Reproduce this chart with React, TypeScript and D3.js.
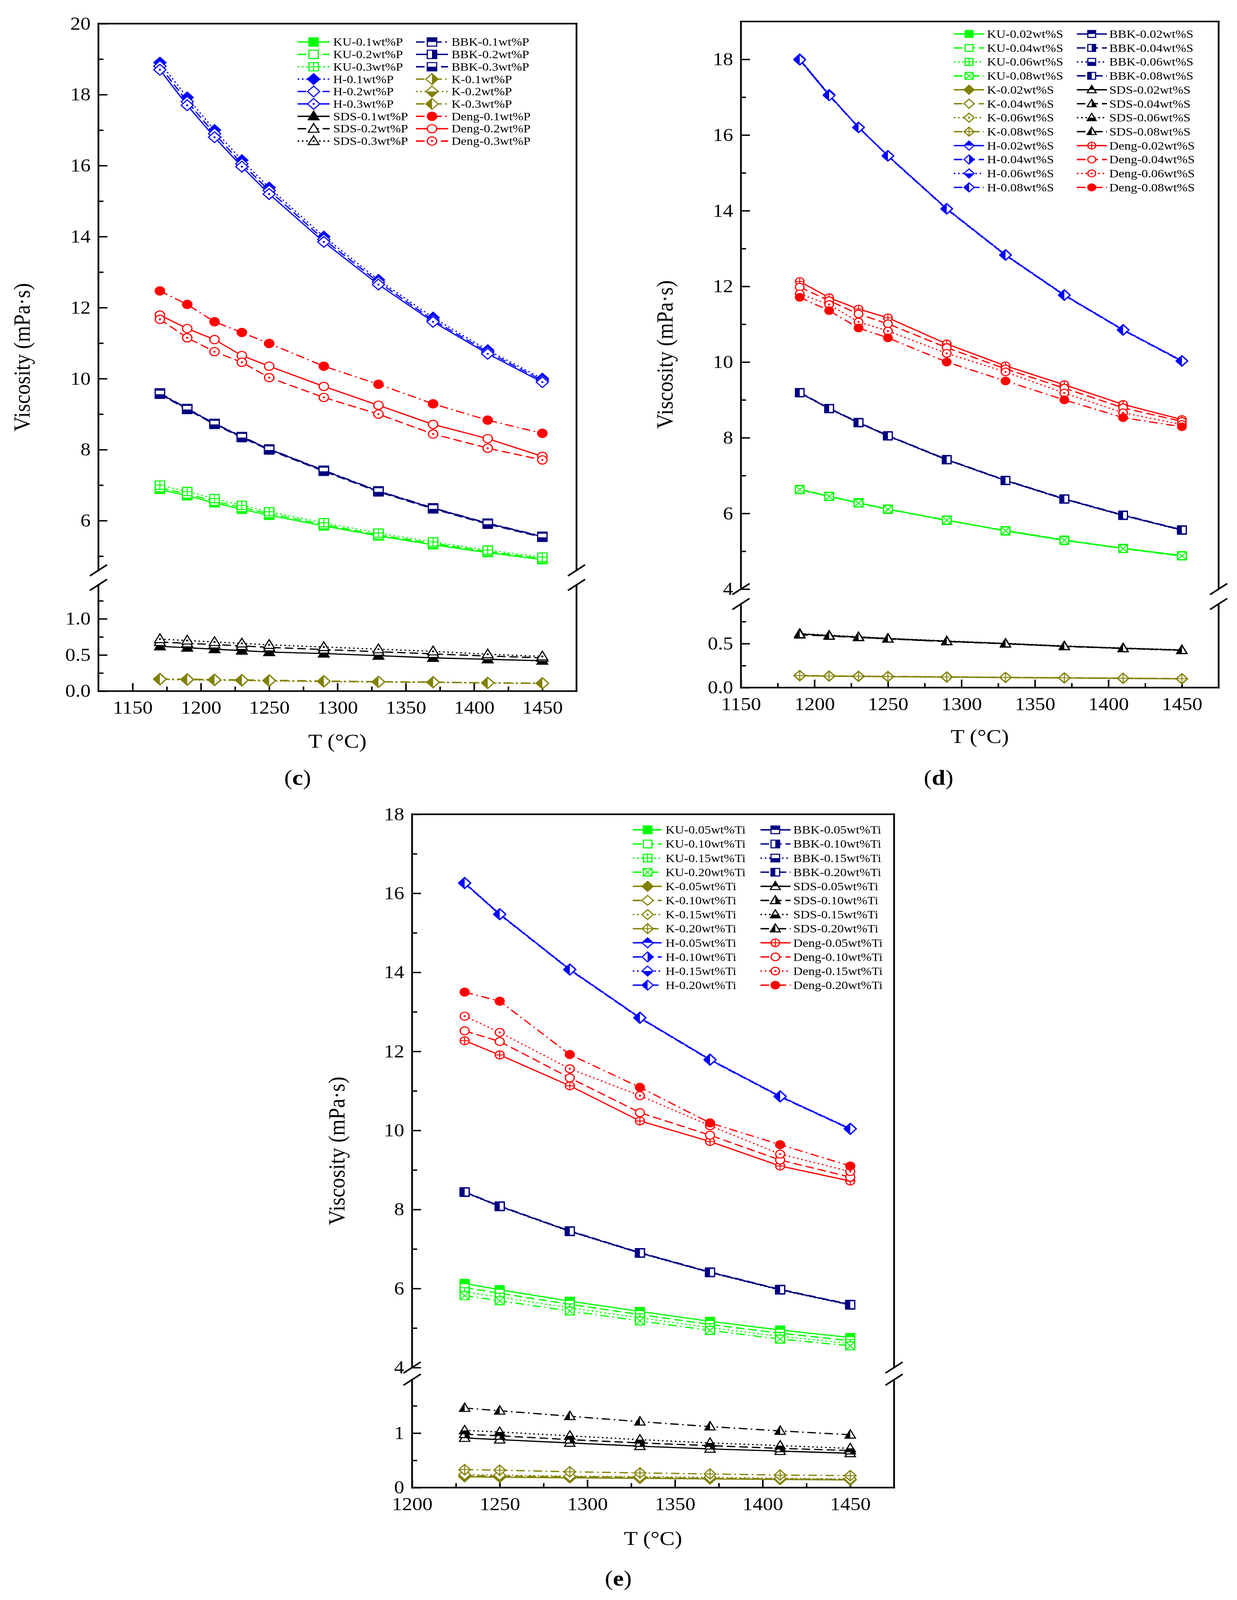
import React, { useEffect, useRef } from "react";
import * as d3 from "d3";

const W = 3167;
const H = 4612;
const FONT = "'Liberation Serif', 'Times New Roman', serif";

// ---------- (c) phosphorus ----------
const tempsP = [1170, 1190, 1210, 1230, 1250, 1290, 1330, 1370, 1410, 1450];
const kuP1 = [6.88, 6.7, 6.5, 6.32, 6.15, 5.85, 5.57, 5.32, 5.1, 4.9];
const kuP2 = [6.93, 6.75, 6.55, 6.37, 6.2, 5.89, 5.6, 5.36, 5.13, 4.93];
const kuP3 = [7.0, 6.82, 6.62, 6.43, 6.25, 5.94, 5.65, 5.4, 5.17, 4.97];
const hP1 = [18.9, 17.92, 17.0, 16.15, 15.38, 14.0, 12.78, 11.72, 10.8, 10.0];
const hP2 = [18.8, 17.8, 16.9, 16.05, 15.3, 13.92, 12.72, 11.65, 10.75, 9.95];
const hP3 = [18.7, 17.7, 16.8, 15.97, 15.2, 13.85, 12.65, 11.6, 10.7, 9.9];
const sdsP1 = [0.62, 0.6, 0.58, 0.56, 0.54, 0.52, 0.49, 0.46, 0.44, 0.42];
const sdsP2 = [0.68, 0.66, 0.645, 0.625, 0.605, 0.575, 0.545, 0.515, 0.485, 0.46];
const sdsP3 = [0.72, 0.7, 0.68, 0.66, 0.64, 0.61, 0.58, 0.55, 0.51, 0.48];
const bbkP1 = [9.6, 9.16, 8.74, 8.37, 8.02, 7.42, 6.84, 6.36, 5.93, 5.56];
const bbkP2 = [9.58, 9.15, 8.73, 8.36, 8.01, 7.41, 6.83, 6.35, 5.92, 5.55];
const bbkP3 = [9.56, 9.13, 8.71, 8.34, 7.99, 7.39, 6.81, 6.33, 5.9, 5.53];
const kP1 = [0.17, 0.165, 0.16, 0.155, 0.15, 0.14, 0.13, 0.125, 0.115, 0.11];
const kP2 = [0.16, 0.155, 0.15, 0.145, 0.14, 0.13, 0.125, 0.12, 0.11, 0.105];
const kP3 = [0.165, 0.16, 0.155, 0.15, 0.145, 0.135, 0.128, 0.122, 0.112, 0.108];
const dengP1 = [12.47, 12.09, 11.6, 11.3, 10.99, 10.35, 9.84, 9.29, 8.83, 8.46];
const dengP2 = [11.79, 11.41, 11.1, 10.65, 10.35, 9.78, 9.25, 8.71, 8.31, 7.81];
const dengP3 = [11.67, 11.15, 10.76, 10.46, 10.03, 9.47, 9.0, 8.44, 8.04, 7.71];

// ---------- (d) sulfur ----------
const tempsS = [1190, 1210, 1230, 1250, 1290, 1330, 1370, 1410, 1450];
const kuS02 = [6.63, 6.45, 6.28, 6.11, 5.82, 5.54, 5.29, 5.08, 4.88];
const kuS04 = [6.64, 6.46, 6.27, 6.12, 5.81, 5.55, 5.3, 5.07, 4.87];
const kuS06 = [6.62, 6.44, 6.29, 6.1, 5.83, 5.53, 5.28, 5.08, 4.89];
const kuS08 = [6.63, 6.45, 6.27, 6.11, 5.82, 5.54, 5.29, 5.07, 4.88];
const kS02 = [0.135, 0.13, 0.128, 0.125, 0.12, 0.115, 0.11, 0.105, 0.1];
const kS04 = [0.138, 0.133, 0.13, 0.127, 0.122, 0.117, 0.112, 0.107, 0.102];
const kS06 = [0.133, 0.129, 0.126, 0.123, 0.118, 0.113, 0.108, 0.104, 0.099];
const kS08 = [0.136, 0.131, 0.129, 0.126, 0.121, 0.116, 0.111, 0.106, 0.101];
const hS02 = [18.0, 17.06, 16.2, 15.45, 14.05, 12.83, 11.77, 10.85, 10.03];
const hS04 = [17.98, 17.05, 16.21, 15.44, 14.04, 12.82, 11.76, 10.84, 10.02];
const hS06 = [18.01, 17.07, 16.19, 15.46, 14.06, 12.84, 11.78, 10.86, 10.04];
const hS08 = [17.99, 17.04, 16.2, 15.45, 14.05, 12.83, 11.77, 10.85, 10.03];
const bbkS02 = [9.19, 8.77, 8.4, 8.05, 7.42, 6.87, 6.38, 5.95, 5.56];
const bbkS04 = [9.2, 8.78, 8.41, 8.06, 7.43, 6.88, 6.39, 5.96, 5.57];
const bbkS06 = [9.18, 8.76, 8.39, 8.04, 7.41, 6.86, 6.37, 5.94, 5.55];
const bbkS08 = [9.19, 8.77, 8.4, 8.05, 7.42, 6.87, 6.38, 5.95, 5.56];
const sdsS02 = [0.61, 0.59, 0.574, 0.557, 0.527, 0.5, 0.47, 0.447, 0.426];
const sdsS04 = [0.6, 0.585, 0.57, 0.553, 0.523, 0.497, 0.468, 0.444, 0.423];
const sdsS06 = [0.615, 0.595, 0.578, 0.56, 0.53, 0.503, 0.473, 0.45, 0.429];
const sdsS08 = [0.605, 0.588, 0.572, 0.555, 0.525, 0.499, 0.469, 0.446, 0.425];
const dengS02 = [12.13, 11.7, 11.4, 11.17, 10.48, 9.9, 9.4, 8.88, 8.48];
const dengS04 = [11.98, 11.62, 11.27, 11.01, 10.38, 9.82, 9.31, 8.79, 8.43];
const dengS06 = [11.8, 11.52, 11.06, 10.82, 10.23, 9.74, 9.18, 8.66, 8.35];
const dengS08 = [11.71, 11.36, 10.9, 10.64, 10.0, 9.5, 9.0, 8.53, 8.29];

// ---------- (e) titanium ----------
const tempsT = [1230, 1250, 1290, 1330, 1370, 1410, 1450];
const kuT05 = [6.13, 5.97, 5.68, 5.42, 5.17, 4.95, 4.76];
const kuT10 = [6.02, 5.88, 5.6, 5.34, 5.09, 4.87, 4.68];
const kuT15 = [5.92, 5.78, 5.51, 5.26, 5.01, 4.79, 4.61];
const kuT20 = [5.82, 5.69, 5.43, 5.18, 4.94, 4.72, 4.55];
const kT05 = [0.2, 0.19, 0.18, 0.17, 0.16, 0.15, 0.14];
const kT10 = [0.22, 0.21, 0.2, 0.19, 0.17, 0.16, 0.15];
const kT15 = [0.24, 0.23, 0.21, 0.2, 0.19, 0.17, 0.16];
const kT20 = [0.33, 0.32, 0.29, 0.27, 0.25, 0.23, 0.22];
const hT05 = [16.26, 15.47, 14.07, 12.85, 11.79, 10.86, 10.04];
const hT10 = [16.25, 15.46, 14.06, 12.84, 11.78, 10.85, 10.03];
const hT15 = [16.27, 15.48, 14.08, 12.86, 11.8, 10.87, 10.05];
const hT20 = [16.26, 15.47, 14.07, 12.85, 11.79, 10.86, 10.04];
const bbkT05 = [8.44, 8.08, 7.45, 6.9, 6.41, 5.97, 5.59];
const bbkT10 = [8.45, 8.09, 7.46, 6.91, 6.42, 5.98, 5.6];
const bbkT15 = [8.43, 8.07, 7.44, 6.89, 6.4, 5.96, 5.58];
const bbkT20 = [8.44, 8.08, 7.45, 6.9, 6.41, 5.97, 5.59];
const sdsT05 = [0.91, 0.88, 0.82, 0.76, 0.71, 0.67, 0.63];
const sdsT10 = [0.98, 0.95, 0.88, 0.82, 0.77, 0.72, 0.68];
const sdsT15 = [1.05, 1.02, 0.95, 0.88, 0.82, 0.77, 0.72];
const sdsT20 = [1.46, 1.41, 1.31, 1.21, 1.12, 1.04, 0.97];
const dengT05 = [12.27, 11.91, 11.13, 10.24, 9.72, 9.1, 8.72];
const dengT10 = [12.52, 12.25, 11.33, 10.45, 9.88, 9.25, 8.82];
const dengT15 = [12.89, 12.48, 11.56, 10.88, 10.12, 9.4, 8.96];
const dengT20 = [13.5, 13.27, 11.92, 11.09, 10.19, 9.64, 9.1];

// tick values
const xTicksP = [1150, 1200, 1250, 1300, 1350, 1400, 1450];
const xMinorP = [1175, 1225, 1275, 1325, 1375, 1425];
const xTicksT = [1200, 1250, 1300, 1350, 1400, 1450];
const xMinorT = [1225, 1275, 1325, 1375, 1425];
const yTicksC = [6, 8, 10, 12, 14, 16, 18, 20];
const yMinorC = [5, 7, 9, 11, 13, 15, 17, 19];
const yLowC = [0, 0.5, 1.0];
const yLowMinorC = [0.25, 0.75, 1.25];
const yTicksD = [4, 6, 8, 10, 12, 14, 16, 18];
const yMinorD = [5, 7, 9, 11, 13, 15, 17];
const yLowD = [0, 0.5];
const yLowMinorD = [0.25, 0.75];
const yTicksE = [4, 6, 8, 10, 12, 14, 16, 18];
const yMinorE = [5, 7, 9, 11, 13, 15, 17];
const yLowE = [0, 1];
const yLowMinorE = [0.5, 1.5];

const C = { KU: "#00ff00", K: "#808000", H: "#0000ff", BBK: "#000080", SDS: "#000000", Deng: "#ff0000" };

type Shape = "square" | "diamond" | "triangle" | "circle";
type Fill = "filled" | "open" | "dot" | "plus" | "cross" | "top" | "right" | "bottom" | "left";
type Dash = "solid" | "dash" | "dot" | "dashdot";

interface Series { label: string; values: number[]; color: string; dash: Dash; shape: Shape; fill: Fill; low?: boolean }

const s = (label: string, values: number[], color: string, dash: Dash, shape: Shape, fill: Fill, low = false): Series =>
  ({ label, values, color, dash, shape, fill, low });

const DASHES: Record<Dash, string | null> = { solid: null, dash: "22 10", dot: "4 7", dashdot: "22 9 4 9" };
const D4: Dash[] = ["solid", "dash", "dot", "dashdot"];

const seriesC1 = [
  s("KU-0.1wt%P", kuP1, C.KU, "solid", "square", "filled"),
  s("KU-0.2wt%P", kuP2, C.KU, "dash", "square", "open"),
  s("KU-0.3wt%P", kuP3, C.KU, "dot", "square", "plus"),
  s("H-0.1wt%P", hP1, C.H, "dot", "diamond", "filled"),
  s("H-0.2wt%P", hP2, C.H, "dash", "diamond", "open"),
  s("H-0.3wt%P", hP3, C.H, "solid", "diamond", "dot"),
  s("SDS-0.1wt%P", sdsP1, C.SDS, "solid", "triangle", "filled", true),
  s("SDS-0.2wt%P", sdsP2, C.SDS, "dash", "triangle", "open", true),
  s("SDS-0.3wt%P", sdsP3, C.SDS, "dot", "triangle", "dot", true),
];
const seriesC2 = [
  s("BBK-0.1wt%P", bbkP1, C.BBK, "dashdot", "square", "top"),
  s("BBK-0.2wt%P", bbkP2, C.BBK, "solid", "square", "right"),
  s("BBK-0.3wt%P", bbkP3, C.BBK, "dash", "square", "bottom"),
  s("K-0.1wt%P", kP1, C.K, "dashdot", "diamond", "right", true),
  s("K-0.2wt%P", kP2, C.K, "dot", "diamond", "bottom", true),
  s("K-0.3wt%P", kP3, C.K, "dashdot", "diamond", "left", true),
  s("Deng-0.1wt%P", dengP1, C.Deng, "dashdot", "circle", "filled"),
  s("Deng-0.2wt%P", dengP2, C.Deng, "solid", "circle", "open"),
  s("Deng-0.3wt%P", dengP3, C.Deng, "dash", "circle", "dot"),
];

function group4(names: string[], arrs: number[][], color: string, shape: Shape, fills: Fill[], low = false) {
  return names.map((n, i) => s(n, arrs[i], color, D4[i], shape, fills[i], low));
}
const halves: Fill[] = ["top", "right", "bottom", "left"];

const seriesD1 = [
  ...group4(["KU-0.02wt%S", "KU-0.04wt%S", "KU-0.06wt%S", "KU-0.08wt%S"], [kuS02, kuS04, kuS06, kuS08], C.KU, "square", ["filled", "open", "plus", "cross"]),
  ...group4(["K-0.02wt%S", "K-0.04wt%S", "K-0.06wt%S", "K-0.08wt%S"], [kS02, kS04, kS06, kS08], C.K, "diamond", ["filled", "open", "dot", "plus"], true),
  ...group4(["H-0.02wt%S", "H-0.04wt%S", "H-0.06wt%S", "H-0.08wt%S"], [hS02, hS04, hS06, hS08], C.H, "diamond", halves),
];
const seriesD2 = [
  ...group4(["BBK-0.02wt%S", "BBK-0.04wt%S", "BBK-0.06wt%S", "BBK-0.08wt%S"], [bbkS02, bbkS04, bbkS06, bbkS08], C.BBK, "square", halves),
  ...group4(["SDS-0.02wt%S", "SDS-0.04wt%S", "SDS-0.06wt%S", "SDS-0.08wt%S"], [sdsS02, sdsS04, sdsS06, sdsS08], C.SDS, "triangle", halves, true),
  ...group4(["Deng-0.02wt%S", "Deng-0.04wt%S", "Deng-0.06wt%S", "Deng-0.08wt%S"], [dengS02, dengS04, dengS06, dengS08], C.Deng, "circle", ["plus", "open", "dot", "filled"]),
];
const seriesE1 = [
  ...group4(["KU-0.05wt%Ti", "KU-0.10wt%Ti", "KU-0.15wt%Ti", "KU-0.20wt%Ti"], [kuT05, kuT10, kuT15, kuT20], C.KU, "square", ["filled", "open", "plus", "cross"]),
  ...group4(["K-0.05wt%Ti", "K-0.10wt%Ti", "K-0.15wt%Ti", "K-0.20wt%Ti"], [kT05, kT10, kT15, kT20], C.K, "diamond", ["filled", "open", "dot", "plus"], true),
  ...group4(["H-0.05wt%Ti", "H-0.10wt%Ti", "H-0.15wt%Ti", "H-0.20wt%Ti"], [hT05, hT10, hT15, hT20], C.H, "diamond", halves),
];
const seriesE2 = [
  ...group4(["BBK-0.05wt%Ti", "BBK-0.10wt%Ti", "BBK-0.15wt%Ti", "BBK-0.20wt%Ti"], [bbkT05, bbkT10, bbkT15, bbkT20], C.BBK, "square", halves),
  ...group4(["SDS-0.05wt%Ti", "SDS-0.10wt%Ti", "SDS-0.15wt%Ti", "SDS-0.20wt%Ti"], [sdsT05, sdsT10, sdsT15, sdsT20], C.SDS, "triangle", halves, true),
  ...group4(["Deng-0.05wt%Ti", "Deng-0.10wt%Ti", "Deng-0.15wt%Ti", "Deng-0.20wt%Ti"], [dengT05, dengT10, dengT15, dengT20], C.Deng, "circle", ["plus", "open", "dot", "filled"]),
];

interface LegendCol { x0: number; x1: number; xm: number; xt: number }
interface Panel {
  tag: string; temps: number[]; cols: [Series[], Series[]];
  left: number; right: number; top: number; bottom: number; breakTop: number; breakBottom: number;
  xDomain: [number, number]; upDomain: [number, number]; lowDomain: [number, number];
  xTicks: number[]; xMinor: number[]; yTicks: number[]; yMinor: number[]; lowTicks: number[]; lowMinor: number[]; lowFmt: string;
  legY: number; legDy: number; legCols: [LegendCol, LegendCol]; legR: number; markR: number;
  yTitleX: number; xTitleY: number; tagX: number; tagY: number;
}

const panels: Panel[] = [
  {
    tag: "c", temps: tempsP, cols: [seriesC1, seriesC2],
    left: 252, right: 1476, top: 68, bottom: 1992, breakTop: 1644, breakBottom: 1686,
    xDomain: [1125, 1475], upDomain: [4.6, 20], lowDomain: [0, 1.47],
    xTicks: xTicksP, xMinor: xMinorP, yTicks: yTicksC, yMinor: yMinorC, lowTicks: yLowC, lowMinor: yLowMinorC, lowFmt: ".1f",
    legY: 121, legDy: 35.7, legCols: [{ x0: 762, x1: 844, xm: 803, xt: 853 }, { x0: 1065, x1: 1147, xm: 1106, xt: 1156 }], legR: 12, markR: 12,
    yTitleX: 76, xTitleY: 2155, tagX: 762, tagY: 2262,
  },
  {
    tag: "d", temps: tempsS, cols: [seriesD1, seriesD2],
    left: 1897, right: 3120, top: 62, bottom: 1982, breakTop: 1698, breakBottom: 1741,
    xDomain: [1150, 1475], upDomain: [4, 19], lowDomain: [0, 0.95],
    xTicks: xTicksP, xMinor: xMinorP, yTicks: yTicksD, yMinor: yMinorD, lowTicks: yLowD, lowMinor: yLowMinorD, lowFmt: ".1f",
    legY: 98, legDy: 40.2, legCols: [{ x0: 2442, x1: 2519, xm: 2481, xt: 2527 }, { x0: 2757, x1: 2834, xm: 2795, xt: 2840 }], legR: 10, markR: 11,
    yTitleX: 1722, xTitleY: 2142, tagX: 2403, tagY: 2262,
  },
  {
    tag: "e", temps: tempsT, cols: [seriesE1, seriesE2],
    left: 1055, right: 2289, top: 2347, bottom: 4288, breakTop: 3942, breakBottom: 3977,
    xDomain: [1200, 1475], upDomain: [4, 18], lowDomain: [0, 1.98],
    xTicks: xTicksT, xMinor: xMinorT, yTicks: yTicksE, yMinor: yMinorE, lowTicks: yLowE, lowMinor: yLowMinorE, lowFmt: "d",
    legY: 2392, legDy: 40.7, legCols: [{ x0: 1620, x1: 1694, xm: 1658, xt: 1704 }, { x0: 1947, x1: 2024, xm: 1985, xt: 2031 }], legR: 11, markR: 11.5,
    yTitleX: 882, xTitleY: 4453, tagX: 1583, tagY: 4570,
  },
];

function shapePath(shape: Shape, r: number) {
  if (shape === "square") return `M${-r},${-r}H${r}V${r}H${-r}Z`;
  if (shape === "diamond") { const d = r * 1.3; return `M0,${-d}L${d},0L0,${d}L${-d},0Z`; }
  if (shape === "triangle") return `M0,${-r * 1.25}L${r * 1.15},${r * 0.85}L${-r * 1.15},${r * 0.85}Z`;
  return `M${r},0A${r},${r} 0 1,1 ${-r},0A${r},${r} 0 1,1 ${r},0Z`;
}

function drawMarker(g: d3.Selection<SVGGElement, unknown, null, undefined>, shape: Shape, fill: Fill, color: string, r: number) {
  const p = shapePath(shape, r);
  const ext = shape === "diamond" ? r * 1.3 : r;
  g.append("path").attr("d", p).attr("fill", fill === "filled" ? color : "#fff");
  if (fill === "top" || fill === "right" || fill === "bottom" || fill === "left") {
    g.append("path").attr("d", p).attr("fill", color).attr("clip-path", `url(#half-${fill})`);
  }
  if (fill === "dot") g.append("circle").attr("r", 2.8).attr("fill", color);
  if (fill === "plus") {
    g.append("path").attr("d", `M${-ext},0H${ext}M0,${-ext}V${ext}`).attr("stroke", color).attr("stroke-width", 2.5);
  }
  if (fill === "cross") {
    g.append("path").attr("d", `M${-r},${-r}L${r},${r}M${r},${-r}L${-r},${r}`).attr("stroke", color).attr("stroke-width", 2.5);
  }
  g.append("path").attr("d", p).attr("fill", "none").attr("stroke", color).attr("stroke-width", 3);
}

function drawPanel(root: d3.Selection<SVGSVGElement, unknown, null, undefined>, p: Panel) {
  const g = root.append("g");
  const x = d3.scaleLinear().domain(p.xDomain).range([p.left, p.right]);
  const yU = d3.scaleLinear().domain(p.upDomain).range([p.breakTop, p.top]);
  const yL = d3.scaleLinear().domain(p.lowDomain).range([p.bottom, p.breakBottom]);

  const style = (a: d3.Selection<SVGGElement, unknown, null, undefined>) => {
    a.select(".domain").remove();
    a.attr("font-family", FONT).attr("font-size", 52);
    a.selectAll("line").attr("stroke", "#000").attr("stroke-width", 4);
    a.selectAll("text").attr("fill", "#000");
  };

  // y axes (ticks point inward)
  const ya = (scale: d3.ScaleLinear<number, number>, ticks: number[], fmt: string, size: number, labels: boolean) => {
    const ax = g.append("g").attr("transform", `translate(${p.left},0)`)
      .call(d3.axisLeft(scale).tickValues(ticks).tickSize(-size).tickSizeOuter(0).tickPadding(20)
        .tickFormat(labels ? (d3.format(fmt) as any) : () => ""));
    style(ax);
  };
  ya(yU, p.yTicks, "d", 23, true);
  ya(yU, p.yMinor, "d", 13, false);
  ya(yL, p.lowTicks, p.lowFmt, 23, true);
  ya(yL, p.lowMinor, p.lowFmt, 13, false);

  const xa = (ticks: number[], size: number, labels: boolean) => {
    const ax = g.append("g").attr("transform", `translate(0,${p.bottom})`)
      .call(d3.axisBottom(x).tickValues(ticks).tickSize(-size).tickSizeOuter(0).tickPadding(28)
        .tickFormat(labels ? (d3.format("d") as any) : () => ""));
    style(ax);
  };
  xa(p.xTicks, 23, true);
  xa(p.xMinor, 13, false);

  // frame with axis break
  const frame = g.append("g").attr("stroke", "#000").attr("stroke-width", 4.5).attr("fill", "none").attr("stroke-linecap", "square");
  frame.append("line").attr("x1", p.left).attr("x2", p.right).attr("y1", p.top).attr("y2", p.top);
  frame.append("line").attr("x1", p.left).attr("x2", p.right).attr("y1", p.bottom).attr("y2", p.bottom);
  [p.left, p.right].forEach((xx) => {
    frame.append("line").attr("x1", xx).attr("x2", xx).attr("y1", p.top).attr("y2", p.breakTop);
    frame.append("line").attr("x1", xx).attr("x2", xx).attr("y1", p.breakBottom).attr("y2", p.bottom);
    [p.breakTop, p.breakBottom].forEach((yy) => {
      frame.append("line").attr("x1", xx - 22).attr("y1", yy + 16).attr("x2", xx + 22).attr("y2", yy - 16)
        .attr("stroke-linecap", "butt");
    });
  });

  // series
  const all = [...p.cols[0], ...p.cols[1]];
  all.forEach((se) => {
    const y = se.low ? yL : yU;
    const line = d3.line<number>().x((_, i) => x(p.temps[i])).y((d) => y(d));
    g.append("path").datum(se.values).attr("d", line).attr("fill", "none").attr("stroke", se.color)
      .attr("stroke-width", 3.5).attr("stroke-dasharray", DASHES[se.dash]);
  });
  all.forEach((se) => {
    const y = se.low ? yL : yU;
    se.values.forEach((v, i) => {
      const mg = g.append("g").attr("transform", `translate(${x(p.temps[i])},${y(v)})`);
      drawMarker(mg, se.shape, se.fill, se.color, p.markR);
    });
  });

  // legend
  p.cols.forEach((col, ci) => {
    const lc = p.legCols[ci];
    col.forEach((se, ri) => {
      const yy = p.legY + ri * p.legDy;
      g.append("line").attr("x1", lc.x0).attr("x2", lc.x1).attr("y1", yy).attr("y2", yy)
        .attr("stroke", se.color).attr("stroke-width", 4).attr("stroke-dasharray", DASHES[se.dash]);
      const mg = g.append("g").attr("transform", `translate(${lc.xm},${yy})`);
      drawMarker(mg, se.shape, se.fill, se.color, p.legR);
      g.append("text").attr("x", lc.xt).attr("y", yy).attr("dy", "0.34em").attr("font-family", FONT)
        .attr("font-size", 33).attr("fill", "#000").text(se.label);
    });
  });

  // titles
  const cy = (p.top + p.bottom) / 2;
  g.append("text").attr("transform", `translate(${p.yTitleX},${cy}) rotate(-90)`).attr("text-anchor", "middle")
    .attr("font-family", FONT).attr("font-size", 60).attr("fill", "#000").text("Viscosity (mPa·s)");
  g.append("text").attr("x", (p.left + p.right) / 2).attr("y", p.xTitleY).attr("text-anchor", "middle")
    .attr("font-family", FONT).attr("font-size", 58).attr("fill", "#000").text("T (°C)");
  const t = g.append("text").attr("x", p.tagX).attr("y", p.tagY).attr("text-anchor", "middle")
    .attr("font-family", FONT).attr("font-size", 62).attr("fill", "#000");
  t.append("tspan").text("(");
  t.append("tspan").attr("font-weight", "bold").text(p.tag);
  t.append("tspan").text(")");
}

const App: React.FC = () => {
  const svgRef = useRef<SVGSVGElement>(null);

  useEffect(() => {
    const svg = d3.select(svgRef.current as SVGSVGElement);
    svg.selectAll("*").remove();
    svg.append("rect").attr("width", W).attr("height", H).attr("fill", "#fff");
    const defs = svg.append("defs");
    const clip = (id: string, x: number, y: number, w: number, h: number) =>
      defs.append("clipPath").attr("id", id).attr("clipPathUnits", "userSpaceOnUse")
        .append("rect").attr("x", x).attr("y", y).attr("width", w).attr("height", h);
    clip("half-top", -50, -50, 100, 50);
    clip("half-bottom", -50, 0, 100, 50);
    clip("half-left", -50, -50, 50, 100);
    clip("half-right", 0, -50, 50, 100);
    panels.forEach((p) => drawPanel(svg, p));
  }, []);

  // fill the browser viewport so the whole figure is always in the photograph
  return (
    <svg ref={svgRef} viewBox={`0 0 ${W} ${H}`} preserveAspectRatio="none"
      style={{ position: "fixed", left: 0, top: 0, width: "100vw", height: "100vh", display: "block" }} />
  );
};

export default App;
